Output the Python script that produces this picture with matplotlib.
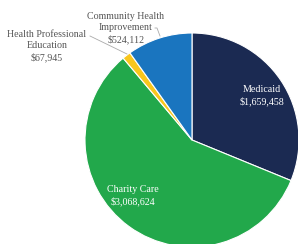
import matplotlib
matplotlib.use("Agg")
import matplotlib.pyplot as plt

# slice data, clockwise from 12 o'clock
categories = ["Medicaid", "Charity Care", "Health Professional\nEducation", "Community Health\nImprovement"]
values = [1659458, 3068624, 67945, 524112]
colors = ["#1b2a52", "#22a84b", "#f8c61c", "#1a75bf"]

W, H = 298, 244
fig = plt.figure(figsize=(W / 100, H / 100), dpi=100)
ax = fig.add_axes([0, 0, 1, 1])

cx, cy, r = 192, H - 140, 107
ax.pie(values, colors=colors, startangle=90, counterclock=False,
       center=(cx, cy), radius=r, frame=True,
       wedgeprops=dict(edgecolor="white", linewidth=0.8))
ax.set_xlim(0, W)
ax.set_ylim(0, H)
ax.set_aspect("equal")
ax.axis("off")

font = dict(family="Liberation Serif", fontsize=7.2, ha="center", va="center", linespacing=1.35)

def money(v):
    return "${:,}".format(v)

# inside labels
ax.text(262, H - 96, categories[0] + "\n" + money(values[0]), color="white", **font)
ax.text(133, H - 196, categories[1] + "\n" + money(values[1]), color="white", **font)

# outside labels with leader lines
ax.text(47, H - 46, categories[2] + "\n" + money(values[2]), color="#555555", **font)
ax.plot([90, 127], [H - 36, H - 54], color="#aaaaaa", lw=0.6)
ax.text(126, H - 28, categories[3] + "\n" + money(values[3]), color="#555555", **font)
ax.plot([155, 157, 160], [H - 28, H - 28, H - 36], color="#aaaaaa", lw=0.6)

fig.savefig("out.png", dpi=100)
